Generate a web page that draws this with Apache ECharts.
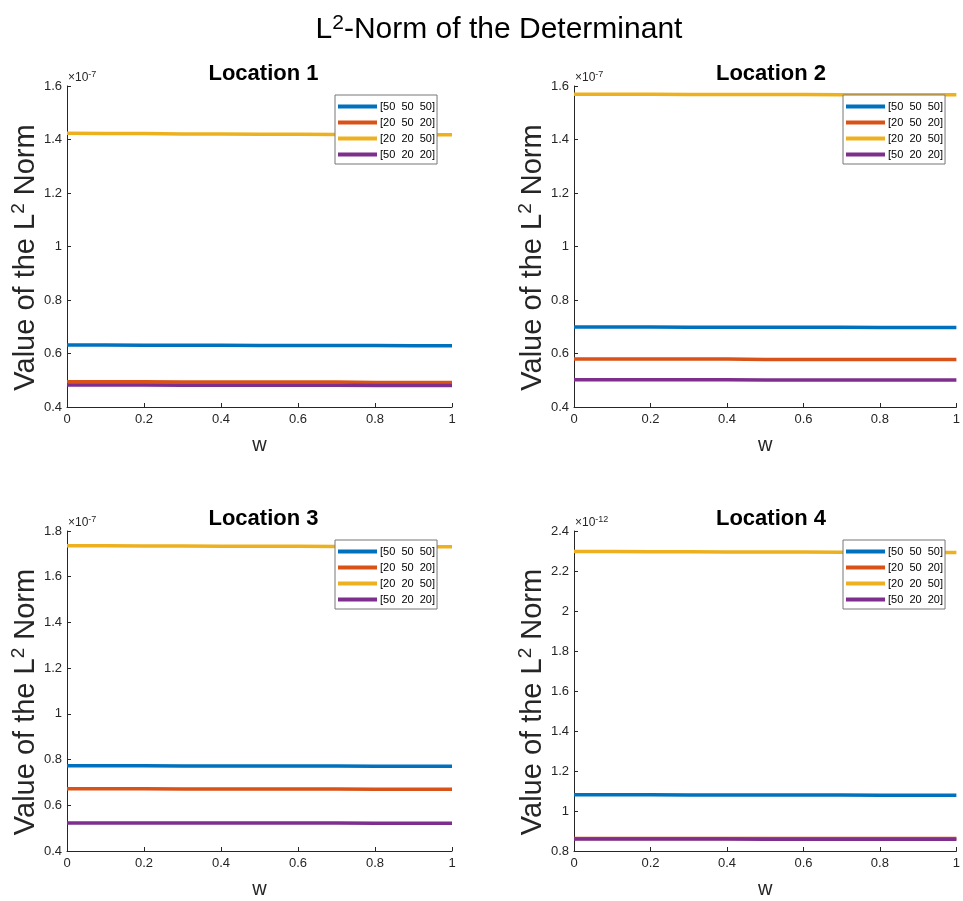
<!DOCTYPE html>
<html><head><meta charset="utf-8">
<script src="https://cdn.jsdelivr.net/npm/echarts@6/dist/echarts.min.js"></script>
<style>html,body{margin:0;padding:0;background:#fff}#c{width:963px;height:901px}</style>
</head><body><div id="c"></div>
<script>
const wValues = [0, 0.1, 0.2, 0.3, 0.4, 0.5, 0.6, 0.7, 0.8, 0.9, 1];
const seriesNames = ['[50  50  50]', '[20  50  20]', '[20  20  50]', '[50  20  20]'];
const colors = ['#0072BD', '#D95319', '#EDB120', '#7E2F8E'];
const panelTitles = ['Location 1', 'Location 2', 'Location 3', 'Location 4'];
const exponents = ['-7', '-7', '-7', '-12'];
const yMins = [0.4, 0.4, 0.4, 0.8];
const yMaxs = [1.6, 1.6, 1.8, 2.4];
// mantissa values (multiply by 10^exponent)
const loc1Blue   = [0.632, 0.632, 0.631, 0.631, 0.631, 0.630, 0.630, 0.630, 0.630, 0.629, 0.629];
const loc1Red    = [0.494, 0.494, 0.494, 0.493, 0.493, 0.493, 0.493, 0.493, 0.492, 0.492, 0.492];
const loc1Yellow = [1.423, 1.422, 1.422, 1.421, 1.421, 1.420, 1.420, 1.419, 1.419, 1.418, 1.418];
const loc1Purple = [0.482, 0.482, 0.482, 0.481, 0.481, 0.481, 0.481, 0.481, 0.480, 0.480, 0.480];
const loc2Blue   = [0.699, 0.699, 0.699, 0.698, 0.698, 0.698, 0.698, 0.698, 0.697, 0.697, 0.697];
const loc2Red    = [0.579, 0.579, 0.579, 0.579, 0.579, 0.578, 0.578, 0.578, 0.578, 0.578, 0.578];
const loc2Yellow = [1.569, 1.569, 1.569, 1.568, 1.568, 1.568, 1.568, 1.567, 1.567, 1.567, 1.567];
const loc2Purple = [0.502, 0.502, 0.502, 0.502, 0.502, 0.501, 0.501, 0.501, 0.501, 0.501, 0.501];
const loc3Blue   = [0.773, 0.773, 0.773, 0.772, 0.772, 0.772, 0.772, 0.772, 0.771, 0.771, 0.771];
const loc3Red    = [0.672, 0.672, 0.672, 0.671, 0.671, 0.671, 0.671, 0.671, 0.670, 0.670, 0.670];
const loc3Yellow = [1.735, 1.735, 1.734, 1.734, 1.733, 1.733, 1.733, 1.732, 1.732, 1.731, 1.731];
const loc3Purple = [0.523, 0.523, 0.523, 0.522, 0.522, 0.522, 0.522, 0.522, 0.521, 0.521, 0.521];
const loc4Blue   = [1.081, 1.081, 1.081, 1.080, 1.080, 1.080, 1.080, 1.080, 1.079, 1.079, 1.079];
const loc4Red    = [0.863, 0.863, 0.863, 0.863, 0.863, 0.862, 0.862, 0.862, 0.862, 0.862, 0.862];
const loc4Yellow = [2.297, 2.297, 2.296, 2.296, 2.295, 2.295, 2.295, 2.294, 2.294, 2.293, 2.293];
const loc4Purple = [0.860, 0.860, 0.860, 0.860, 0.860, 0.859, 0.859, 0.859, 0.859, 0.859, 0.859];
const panelData = [
  [loc1Blue, loc1Red, loc1Yellow, loc1Purple],
  [loc2Blue, loc2Red, loc2Yellow, loc2Purple],
  [loc3Blue, loc3Red, loc3Yellow, loc3Purple],
  [loc4Blue, loc4Red, loc4Yellow, loc4Purple]
];

const FONT = 'Arial, "Liberation Sans", Helvetica, sans-serif';
const AX = '#262626';
const grids = [
  {left: 67, top: 86, width: 385, height: 321},
  {left: 574, top: 86, width: 386, height: 321},
  {left: 67, top: 531, width: 385, height: 320},
  {left: 574, top: 531, width: 386, height: 320}
];
const legendPos = [[335, 95], [843, 95], [335, 540], [843, 540]];

const chart = echarts.init(document.getElementById('c'), null, {renderer: 'canvas'});
const option = {
  backgroundColor: '#fff',
  animation: false,
  textStyle: {fontFamily: FONT},
  title: [{
    text: 'L{sup|2}-Norm of the Determinant',
    left: 494, top: 8, textAlign: 'center',
    textStyle: {fontSize: 30, fontWeight: 'normal', color: '#000', fontFamily: FONT,
      rich: {sup: {fontSize: 21, verticalAlign: 'top', padding: [0, 0, 13, 0], color: '#000', fontFamily: FONT}}}
  }].concat(panelTitles.map((t, i) => ({
    text: t,
    left: grids[i].left + grids[i].width / 2 - 1, top: grids[i].top - 28, textAlign: 'center',
    textStyle: {fontSize: 22, fontWeight: 'bold', color: '#000', fontFamily: FONT}
  }))),
  grid: grids,
  legend: grids.map((g, i) => ({
    data: seriesNames,
    orient: 'vertical',
    left: legendPos[i][0], top: legendPos[i][1],
    icon: 'rect', itemWidth: 39, itemHeight: 4, itemGap: 3,
    padding: [5, 2, 3, 3],
    borderColor: '#777', borderWidth: 1, backgroundColor: '#fff',
    selectedMode: false,
    textStyle: {fontSize: 11, color: '#000', fontFamily: FONT, padding: [0, 0, 0, -2], lineHeight: 13}
  })),
  xAxis: grids.map((g, i) => ({
    gridIndex: i, type: 'value', min: 0, max: 1, interval: 0.2,
    name: 'w', nameLocation: 'middle', nameGap: 28,
    nameTextStyle: {fontSize: 20, color: AX, fontFamily: FONT},
    axisLine: {lineStyle: {color: AX, width: 1}},
    axisTick: {inside: true, length: 4, lineStyle: {color: AX}},
    axisLabel: {fontSize: 13, color: AX, margin: 6, fontFamily: FONT},
    splitLine: {show: false}
  })),
  yAxis: grids.map((g, i) => ({
    gridIndex: i, type: 'value', min: yMins[i], max: yMaxs[i], interval: 0.2,
    name: 'Value of the L{sup|2} Norm', nameLocation: 'middle', nameGap: 24, nameRotate: 90,
    nameTextStyle: {fontSize: 29, color: AX, fontFamily: FONT, padding: [0, 22, 0, 0],
      rich: {sup: {fontSize: 19, color: AX, verticalAlign: 'top', padding: [0, 0, 13, 0], fontFamily: FONT}}},
    axisLine: {show: true, lineStyle: {color: AX, width: 1}},
    axisTick: {show: true, inside: true, length: 4, lineStyle: {color: AX}},
    axisLabel: {fontSize: 13, color: AX, margin: 5, fontFamily: FONT},
    splitLine: {show: false}
  })),
  graphic: grids.map((g, i) => ({
    type: 'text', left: g.left + 1, top: g.top - 16,
    style: {text: '×10{sup|' + exponents[i] + '}', fontSize: 12, fill: AX, fontFamily: FONT,
      rich: {sup: {fontSize: 9, fill: AX, verticalAlign: 'top', padding: [0, 0, 6, 0], fontFamily: FONT}}}
  })),
  series: []
};
panelData.forEach((arrs, gi) => {
  arrs.forEach((vals, si) => {
    option.series.push({
      type: 'line', name: seriesNames[si], xAxisIndex: gi, yAxisIndex: gi,
      data: wValues.map((w, k) => [w, vals[k]]),
      showSymbol: false, symbol: 'none',
      lineStyle: {color: colors[si], width: 3.5},
      itemStyle: {color: colors[si]}
    });
  });
});
chart.setOption(option);
</script></body></html>
